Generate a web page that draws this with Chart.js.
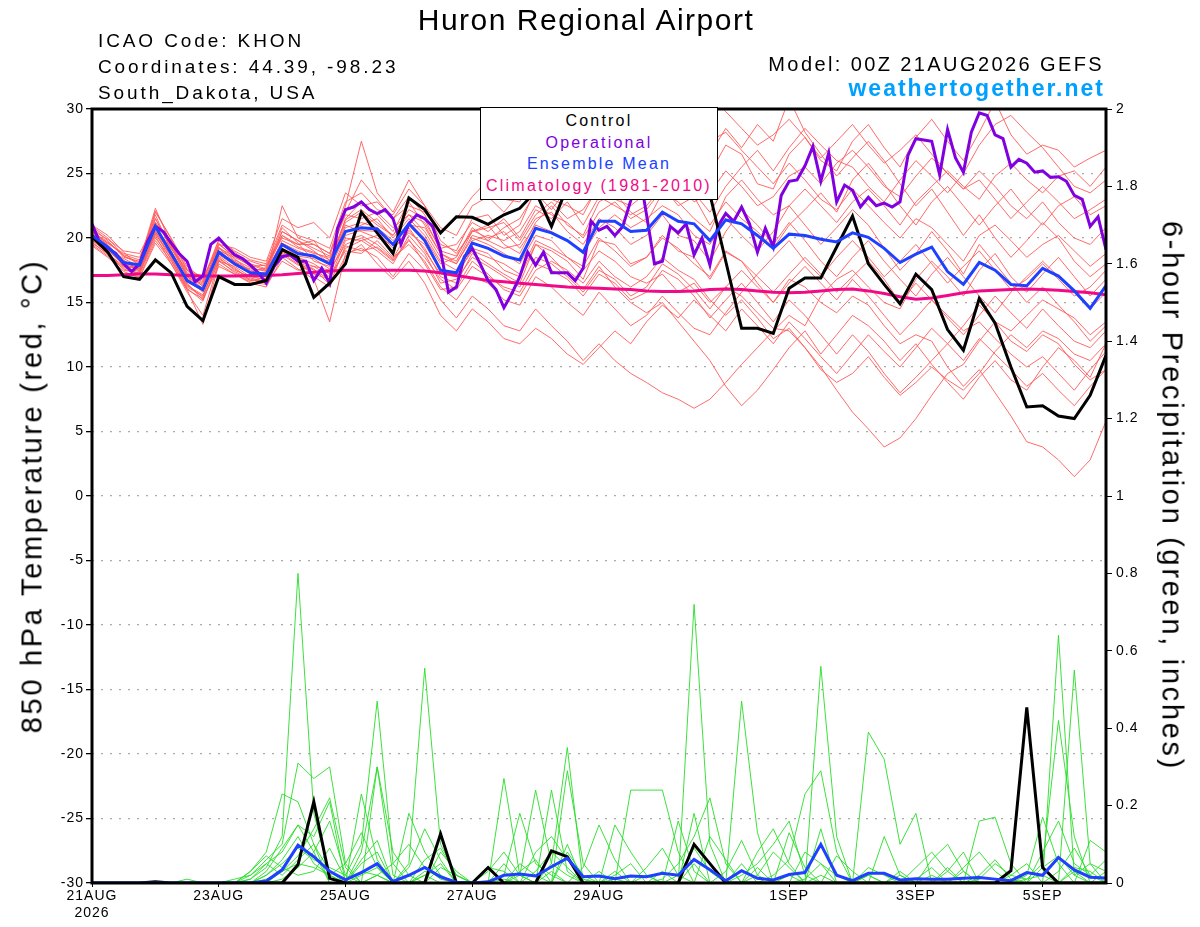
<!DOCTYPE html>
<html>
<head>
<meta charset="utf-8">
<script src="https://cdn.jsdelivr.net/npm/chart.js@4.4.1/dist/chart.umd.min.js"></script>
<style>
  body { margin: 0; background: #fff; }
  #wrap { position: relative; width: 1200px; height: 927px; font-family: 'Liberation Sans', Arial, sans-serif; }
  #c { position: absolute; left: 0; top: 0; }
  .t { position: absolute; white-space: nowrap; line-height: 1; color: #000; }
  .info { font-size: 19px; letter-spacing: 2.9px; left: 98px; }
  .axt { font-size: 29px; letter-spacing: 2.7px; }
  #legend { position: absolute; left: 480px; top: 107px; width: 236px; height: 89px; border: 1px solid #000;
            background: #fff; text-align: center; font-size: 16px; letter-spacing: 2.2px; line-height: 21.7px;
            padding-top: 2px; box-sizing: content-box; }
</style>
</head>
<body>
<div id="wrap">
  <canvas id="c" width="1200" height="927"></canvas>
  <div class="t" style="left:0;width:1172px;text-align:center;top:5px;font-size:30px;letter-spacing:1.5px">Huron Regional Airport</div>
  <div class="t info" style="top:31px">ICAO Code: KHON</div>
  <div class="t info" style="top:57px">Coordinates: 44.39, -98.23</div>
  <div class="t info" style="top:83px">South_Dakota, USA</div>
  <div class="t" style="right:96px;top:54px;font-size:20px;letter-spacing:2.4px">Model: 00Z 21AUG2026 GEFS</div>
  <div class="t" style="right:95px;top:77px;font-size:23px;letter-spacing:2px;font-weight:bold;color:#00a0ff">weathertogether.net</div>
  <div class="t axt" style="left:32px;top:496px;transform:translate(-50%,-50%) rotate(-90deg)">850 hPa Temperature (red, °C)</div>
  <div class="t axt" style="left:1172px;top:496px;transform:translate(-50%,-50%) rotate(90deg)">6-hour Precipitation (green, inches)</div>
  <div id="legend">
    <div style="color:#000">Control</div>
    <div style="color:#8000e0">Operational</div>
    <div style="color:#2040ff">Ensemble Mean</div>
    <div style="color:#f00a88">Climatology (1981-2010)</div>
  </div>
</div>
<script>
// forecast hours, 6-hourly for the ensemble, 3-hourly for the operational run
const HOURS6 = Array.from({ length: 65 }, (_, i) => i * 6);
const HOURS3 = Array.from({ length: 129 }, (_, i) => i * 3);

const TICK_HOURS = [0, 48, 96, 144, 192, 264, 312, 360];
const TICK_LABELS = [["21AUG", "2026"], "23AUG", "25AUG", "27AUG", "29AUG", "1SEP", "3SEP", "5SEP"];

// 850 hPa temperature (C)
const controlTemp = [
  20.1, 18.9, 17.0, 16.8, 18.3, 17.3, 14.7, 13.6, 17.0, 16.4, 16.4, 16.7,
  19.1, 18.5, 15.4, 16.5, 18.0, 22.0, 20.4, 18.8, 23.1, 22.2, 20.4, 21.65,
  21.6, 21.06, 21.8, 22.3, 23.6, 20.9, 24.0, 25.2, 26.0, 25.5, 26.5, 27.0,
  26.2, 25.8, 24.8, 23.4, 18.2, 13.0, 13.0, 12.6, 16.1, 16.9, 16.9, 19.3,
  21.7, 18.0, 16.4, 14.9, 17.2, 16.0, 12.9, 11.3, 15.3, 13.4, 10.0, 6.9,
  7.0, 6.2, 6.0, 7.8, 10.9
];
const meanTemp = [
  20.2, 19.3, 18.1, 17.9, 20.9, 18.8, 16.7, 16.0, 18.9, 18.0, 17.3, 17.2,
  19.5, 18.8, 18.6, 18.0, 20.5, 20.8, 20.7, 19.5, 21.1, 19.8, 17.5, 17.3,
  19.6, 19.2, 18.6, 18.3, 20.75, 20.4, 19.8, 18.9, 21.3, 21.3, 20.5, 20.6,
  22.0, 21.3, 21.1, 19.8, 21.4, 21.1, 20.2, 19.2, 20.3, 20.2, 19.9, 19.7,
  20.4, 20.05, 19.2, 18.1, 18.75, 19.3, 17.4, 16.4, 18.1, 17.5, 16.4, 16.3,
  17.65, 17.05, 15.9, 14.55, 16.3
];
const climoTemp = [
  17.1, 17.1, 17.15, 17.2, 17.2, 17.15, 17.1, 17.05, 17.05, 17.05, 17.1, 17.1,
  17.15, 17.25, 17.35, 17.45, 17.5, 17.5, 17.5, 17.5, 17.5, 17.45, 17.3, 17.1,
  16.9, 16.7, 16.6, 16.5, 16.4, 16.3, 16.2, 16.15, 16.1, 16.05, 16.0, 15.9,
  15.85, 15.85, 15.9, 16.0, 16.05, 16.0, 15.9, 15.8, 15.75, 15.8, 15.9, 16.0,
  16.05, 15.9, 15.7, 15.45, 15.25, 15.35, 15.55, 15.75, 15.9, 15.95, 16.0, 16.05,
  16.0, 15.95, 15.85, 15.75, 15.6
];
const operTemp = [
  21.1, 19.6, 19.2, 18.8, 18.0, 17.4, 18.0, 19.7, 20.9, 20.5, 19.6, 18.8, 18.2, 16.6, 17.05, 19.5,
  20.0, 19.3, 18.7, 18.4, 17.9, 17.3, 16.5, 17.8, 18.55, 18.7, 18.2, 18.2, 16.7, 17.65, 16.5, 20.75,
  22.2, 22.4, 22.8, 22.2, 21.9, 22.2, 21.5, 19.5, 21.1, 21.8, 21.5, 20.9, 19.0, 15.8, 16.2, 18.55,
  19.2, 18.0, 16.7, 16.0, 14.6, 15.7, 17.0, 18.9, 17.9, 18.9, 17.3, 17.3, 17.3, 16.7, 17.65, 21.3,
  20.6, 20.9, 20.2, 20.9, 22.9, 25.5, 21.8, 18.0, 18.2, 20.9, 20.4, 21.1, 18.7, 20.0, 17.9, 20.9,
  21.9, 21.3, 22.4, 21.1, 18.9, 20.75, 19.3, 23.3, 24.4, 24.5, 25.6, 27.1, 24.4, 26.6, 22.8, 24.1,
  23.7, 22.4, 23.15, 22.5, 22.7, 22.4, 22.8, 26.4, 27.7, 27.6, 27.5, 24.9, 28.4, 26.2, 25.1, 28.2,
  29.7, 29.5, 28.0, 27.7, 25.5, 26.1, 25.8, 25.1, 25.2, 24.7, 24.75, 24.4, 23.3, 23.0, 20.9, 21.65,
  19.1
];
const TEMP_MEMBERS = [
  [20.8, 19.8, 18.5, 18.2, 22.3, 19.5, 17.2, 16.5, 19.8, 18.9, 18.0, 17.6,
   20.5, 19.8, 19.2, 18.6, 22.0, 24.5, 23.0, 21.5, 23.2, 21.8, 19.5, 19.0,
   21.5, 21.8, 20.2, 21.0, 23.8, 23.0, 22.5, 21.8, 24.2, 25.0, 23.5, 24.8,
   26.5, 25.2, 26.8, 25.0, 27.2, 26.5, 24.2, 23.8, 26.5, 27.8, 26.0, 25.2,
   27.5, 28.8, 27.0, 25.5, 27.8, 29.2, 27.5, 26.0, 28.2, 30.6, 28.0, 26.5,
   27.2, 26.8, 25.5, 26.2, 26.8],
  [19.8, 18.9, 17.5, 17.3, 20.2, 18.0, 15.8, 14.0, 18.2, 17.4, 16.8, 16.5,
   18.9, 18.2, 17.5, 16.8, 19.8, 20.2, 19.5, 18.4, 20.6, 19.2, 17.0, 16.5,
   18.8, 18.0, 17.2, 16.5, 19.5, 19.0, 18.2, 16.8, 19.8, 19.5, 18.0, 18.5,
   20.2, 19.0, 18.5, 16.8, 18.9, 18.2, 16.5, 15.0, 16.8, 16.2, 15.0, 14.2,
   15.5, 14.8, 13.2, 11.8, 12.5, 12.0, 10.0, 8.5, 9.8, 8.0, 6.2, 4.2,
   3.8, 2.8, 1.5, 2.8, 5.8],
  [20.5, 19.6, 18.8, 18.5, 21.5, 19.2, 17.5, 16.2, 19.5, 18.6, 17.8, 17.9,
   20.2, 19.5, 19.8, 18.2, 21.2, 22.0, 21.0, 20.2, 21.8, 20.5, 18.5, 18.0,
   20.0, 19.5, 18.8, 18.0, 20.2, 19.8, 18.5, 17.5, 19.0, 18.2, 17.0, 16.5,
   17.2, 15.8, 16.5, 15.0, 16.2, 15.5, 14.2, 13.0, 12.8, 11.5, 10.0, 8.2,
   6.5, 5.2, 3.8, 4.5, 6.0, 7.8, 9.5, 10.2, 12.0, 13.5, 12.8, 14.0,
   15.2, 14.5, 13.8, 12.5, 13.5],
  [19.5, 18.6, 17.2, 17.0, 19.8, 18.2, 16.0, 13.3, 18.0, 17.2, 16.5, 16.2,
   18.5, 17.6, 16.8, 13.5, 18.8, 19.2, 18.5, 17.0, 18.8, 17.5, 15.2, 13.8,
   15.5, 14.5, 13.2, 12.8, 14.5, 13.2, 12.0, 10.5, 11.8, 10.5, 9.5, 8.8,
   8.0, 7.5, 6.8, 7.5, 8.8, 10.2, 11.5, 12.8, 14.0, 13.2, 15.5, 16.8,
   17.5, 16.2, 15.0, 14.5, 16.8, 18.2, 17.0, 15.5, 17.5, 18.8, 17.0, 15.8,
   17.2, 18.5, 17.0, 15.5, 16.8],
  [20.0, 19.0, 18.0, 17.5, 20.5, 18.5, 16.2, 15.5, 18.5, 17.5, 17.0, 16.8,
   19.2, 18.5, 18.0, 17.2, 20.0, 19.8, 20.2, 19.0, 20.8, 19.0, 17.2, 17.0,
   19.2, 18.8, 17.5, 17.0, 19.5, 18.5, 17.2, 16.0, 17.8, 16.2, 15.0, 14.2,
   15.0, 13.5, 12.0, 10.5, 8.5, 7.0, 8.2, 9.8, 11.5, 12.8, 11.0, 12.5,
   14.0, 13.2, 12.0, 10.5, 11.8, 10.2, 8.8, 7.5, 9.2, 10.5, 9.0, 8.2,
   10.0, 11.5, 10.5, 9.2, 11.8],
  [21.0, 20.2, 18.9, 17.8, 22.0, 20.0, 17.8, 16.8, 19.5, 19.2, 18.5, 18.2,
   21.5, 20.8, 21.2, 20.0, 23.5, 22.5, 22.8, 21.5, 22.5, 22.0, 20.5, 21.5,
   23.2, 24.5, 23.0, 22.8, 25.2, 24.5, 26.0, 24.8, 26.5, 27.5, 25.8, 27.0,
   28.5, 27.2, 30.5, 27.5, 28.2, 26.8, 25.5, 24.2, 25.8, 24.5, 23.0, 22.2,
   23.8, 22.5, 21.2, 20.0, 21.5, 20.8, 19.5, 18.2, 20.2, 21.0, 19.8, 18.5,
   19.5, 20.2, 19.0, 17.8, 18.8],
  [20.3, 19.5, 18.2, 17.6, 21.8, 19.0, 16.8, 15.8, 19.2, 18.2, 17.5, 17.0,
   22.5, 20.0, 19.5, 18.8, 22.5, 27.5, 23.5, 22.0, 24.5, 22.5, 19.8, 18.8,
   20.5, 21.0, 19.5, 18.8, 21.2, 22.5, 21.0, 20.2, 22.8, 23.5, 22.0, 21.2,
   23.5, 22.8, 21.5, 20.5, 23.2, 24.5, 23.0, 21.8, 22.5, 21.0, 19.5, 20.8,
   22.2, 21.0, 19.2, 17.5, 18.8, 20.5, 19.0, 17.2, 19.5, 18.0, 16.5, 15.0,
   16.2, 14.8, 13.5, 12.0, 13.2],
  [19.9, 19.2, 18.0, 18.0, 20.8, 19.2, 17.0, 16.3, 18.8, 18.2, 17.2, 17.3,
   19.8, 19.2, 18.8, 18.5, 20.5, 21.0, 21.5, 20.0, 21.5, 20.2, 18.2, 17.5,
   19.8, 20.2, 19.8, 20.5, 22.5, 21.8, 21.2, 20.0, 22.0, 22.8, 21.5, 22.2,
   23.8, 24.2, 23.5, 22.0, 24.0, 25.5, 26.8, 25.2, 27.0, 28.5, 27.2, 26.0,
   25.5, 24.0, 22.8, 24.5, 26.0, 24.8, 23.5, 25.0, 27.2, 28.8, 29.5, 28.2,
   27.0, 25.5, 24.0, 23.5, 24.5],
  [19.6, 18.8, 17.8, 17.2, 20.5, 18.8, 16.5, 15.2, 18.2, 17.8, 17.0, 16.8,
   19.0, 18.2, 17.8, 17.5, 19.5, 20.0, 19.2, 18.2, 19.8, 18.5, 16.8, 16.0,
   17.8, 17.0, 16.2, 15.8, 18.0, 17.5, 16.8, 15.5, 17.2, 16.5, 15.2, 15.8,
   17.5, 16.8, 15.5, 13.8, 15.2, 16.5, 15.0, 13.5, 15.2, 14.0, 12.5, 11.0,
   12.5, 11.2, 9.5, 8.0, 9.2, 10.5, 11.8, 13.2, 14.8, 13.5, 12.0, 11.2,
   12.5, 11.8, 10.2, 9.0, 9.8],
  [20.6, 19.9, 19.0, 18.8, 21.2, 19.8, 17.5, 17.0, 19.2, 18.6, 18.2, 17.8,
   20.0, 19.5, 19.5, 18.8, 21.8, 21.5, 22.0, 20.8, 21.8, 21.2, 19.2, 19.5,
   21.2, 20.5, 21.5, 20.0, 22.2, 21.5, 22.8, 21.0, 23.2, 22.5, 21.8, 22.5,
   24.0, 22.5, 23.2, 21.0, 22.8, 21.5, 20.5, 19.2, 21.0, 22.2, 23.5, 22.0,
   24.5, 25.8, 24.2, 22.5, 21.0, 22.8, 24.0, 22.5, 21.0, 22.5, 23.8, 22.2,
   21.0, 22.5, 23.2, 21.8, 22.5],
  [20.1, 19.2, 18.4, 17.8, 20.8, 18.6, 16.9, 16.0, 18.9, 18.0, 17.6, 17.5,
   20.5, 19.8, 19.0, 18.0, 21.0, 20.5, 20.0, 19.5, 21.2, 20.0, 18.0, 18.5,
   20.8, 19.8, 19.2, 19.5, 21.5, 22.0, 20.5, 19.5, 21.5, 20.8, 19.5, 20.2,
   21.8, 20.2, 19.8, 18.2, 20.5, 22.2, 21.0, 19.5, 21.2, 19.8, 18.2, 17.0,
   18.5, 19.8, 18.2, 16.8, 15.5, 17.2, 18.5, 17.0, 15.5, 14.2, 15.8, 17.0,
   18.2, 17.0, 15.8, 14.5, 15.8],
  [19.7, 18.7, 17.6, 17.2, 20.0, 18.4, 16.3, 15.6, 18.4, 17.6, 16.9, 16.6,
   18.8, 18.0, 17.2, 16.8, 19.2, 19.8, 19.0, 18.0, 20.2, 18.8, 16.5, 16.8,
   18.5, 17.8, 17.0, 16.2, 18.5, 18.0, 17.0, 15.8, 17.5, 16.8, 15.5, 16.2,
   18.0, 17.2, 16.0, 14.5, 16.2, 17.5, 16.2, 15.0, 16.5, 17.8, 16.5, 15.2,
   16.8, 15.5, 14.0, 12.5, 13.8, 15.2, 14.0, 12.8, 13.5, 12.2, 11.0, 10.0,
   10.8, 9.5, 8.2, 9.8, 11.2],
  [20.4, 19.6, 18.7, 18.3, 21.0, 19.6, 17.3, 16.6, 19.0, 18.5, 17.9, 17.5,
   19.6, 19.0, 18.5, 18.2, 20.8, 21.2, 20.8, 19.8, 21.0, 20.8, 18.8, 18.2,
   20.5, 20.8, 21.2, 19.8, 21.8, 22.8, 21.5, 22.2, 24.0, 23.0, 22.5, 23.5,
   25.0, 24.2, 22.8, 23.5, 25.2, 24.0, 22.5, 23.2, 24.8, 25.5, 24.2, 25.8,
   26.8, 25.5, 24.0, 23.2, 24.8, 26.2, 25.0, 23.8, 25.2, 24.0, 22.5, 21.5,
   22.8, 21.2, 20.0, 19.5, 20.8],
  [20.2, 19.1, 17.9, 17.7, 20.6, 18.9, 16.6, 15.9, 18.7, 17.9, 17.3, 17.1,
   19.4, 18.6, 18.4, 17.6, 20.2, 20.6, 20.5, 19.2, 20.4, 19.5, 17.5, 17.2,
   19.0, 18.5, 18.0, 17.2, 19.8, 19.2, 18.5, 17.8, 20.0, 19.0, 17.8, 18.5,
   20.0, 19.2, 18.0, 17.0, 19.0, 18.2, 17.0, 15.8, 17.2, 18.5, 17.2, 15.8,
   17.0, 18.2, 16.8, 15.0, 16.5, 15.2, 13.8, 12.5, 14.0, 15.5, 14.2, 13.0,
   14.5, 13.2, 12.0, 11.5, 12.8],
  [20.7, 19.4, 18.3, 17.4, 21.5, 19.3, 17.0, 16.1, 19.6, 18.4, 17.4, 17.7,
   20.8, 19.6, 18.2, 17.8, 21.5, 22.8, 21.8, 20.5, 22.8, 21.0, 18.8, 18.0,
   20.2, 19.8, 20.8, 21.5, 23.5, 22.2, 23.8, 23.0, 25.2, 24.0, 26.0, 25.2,
   27.0, 26.2, 25.0, 26.5, 28.5, 27.0, 28.8, 27.5, 30.8, 28.2, 26.5, 24.8,
   26.2, 27.5, 26.0, 24.2, 22.5, 23.8, 22.0, 20.2, 21.8, 20.0, 18.5, 19.8,
   21.2, 20.0, 18.2, 17.0, 18.0],
  [19.4, 18.5, 17.4, 16.9, 19.6, 18.0, 16.0, 15.3, 17.8, 17.2, 16.6, 16.4,
   18.2, 17.5, 17.8, 17.0, 19.0, 18.8, 19.8, 18.5, 19.5, 18.2, 16.2, 15.2,
   17.0, 16.5, 15.2, 14.8, 17.0, 16.2, 15.0, 14.0, 15.8, 14.5, 13.2, 14.0,
   15.5, 14.2, 13.0, 12.5, 14.2, 15.8, 17.2, 18.5, 19.8, 18.2, 17.0, 18.5,
   19.8, 18.5, 17.0, 18.2, 19.5, 18.0, 16.5, 17.8, 19.0, 17.5, 16.0, 16.8,
   18.0, 16.8, 15.5, 16.2, 17.5],
  [20.0, 19.3, 17.8, 17.6, 20.3, 18.6, 16.4, 15.4, 18.6, 17.7, 16.7, 16.9,
   19.0, 18.3, 17.0, 16.2, 18.6, 19.5, 18.0, 16.8, 18.2, 16.5, 14.0, 12.8,
   14.5, 13.5, 12.2, 11.8, 13.0, 12.2, 11.0, 10.2, 11.5, 12.8, 11.8, 13.5,
   14.8, 13.8, 15.2, 14.0, 12.8, 14.5, 13.2, 11.8, 13.5, 12.2, 10.8, 9.5,
   11.0, 12.5, 11.2, 10.0, 11.5, 13.0, 11.8, 10.5, 12.2, 11.0, 9.8, 8.5,
   9.5, 8.2, 7.0, 8.5, 9.8],
  [20.9, 20.0, 18.6, 18.1, 22.1, 19.9, 17.6, 16.7, 19.9, 19.0, 18.3, 18.0,
   21.0, 20.2, 19.8, 19.2, 22.8, 23.5, 22.2, 21.8, 23.8, 22.5, 20.8, 20.2,
   22.5, 23.2, 22.0, 23.5, 25.0, 24.2, 25.5, 26.2, 27.8, 26.5, 28.2, 27.5,
   29.2, 28.0, 29.5, 31.0, 29.8, 28.5, 27.2, 28.0, 29.2, 27.8, 26.2, 27.5,
   28.8, 27.2, 25.8, 26.8, 28.0, 26.5, 25.0, 23.8, 24.5, 23.0, 21.5, 22.8,
   24.0, 22.8, 21.5, 22.2, 23.0],
  [19.9, 18.8, 17.7, 17.4, 20.4, 18.3, 16.1, 15.1, 18.3, 17.3, 16.7, 16.7,
   18.7, 17.9, 17.6, 16.4, 19.4, 19.0, 19.3, 18.3, 19.9, 18.0, 16.0, 16.2,
   18.2, 17.2, 16.0, 15.5, 17.5, 18.2, 17.5, 16.5, 18.2, 17.0, 16.2, 17.0,
   18.5, 17.5, 16.8, 15.2, 14.0, 15.2, 13.8, 12.2, 13.0, 11.5, 9.8, 8.8,
   9.5, 10.8, 9.2, 7.8, 8.8, 10.0, 9.0, 8.2, 9.5, 11.2, 12.5, 11.5,
   12.8, 12.2, 11.0, 10.5, 11.8],
  [20.5, 19.7, 18.6, 18.0, 21.2, 19.4, 17.1, 16.4, 19.3, 18.3, 17.7, 17.4,
   20.2, 19.3, 18.9, 18.3, 21.4, 22.2, 21.2, 20.2, 22.2, 21.5, 19.0, 18.6,
   20.6, 20.0, 20.5, 19.2, 21.0, 20.5, 19.8, 18.8, 20.8, 21.8, 20.8, 21.5,
   22.5, 21.8, 20.2, 19.5, 21.5, 20.2, 19.0, 20.5, 22.5, 23.8, 22.5, 21.2,
   22.8, 23.8, 22.5, 21.0, 22.8, 24.0, 25.2, 24.0, 23.0, 24.8, 25.8, 24.5,
   23.5, 24.8, 25.2, 24.0, 25.5]
];

// 6-hour precipitation (inches)
const controlPrecip = [
  0, 0, 0, 0, 0.003, 0, 0, 0, 0, 0,
  0, 0, 0, 0.047, 0.21, 0.012, 0, 0, 0, 0,
  0, 0, 0.127, 0, 0, 0.04, 0, 0, 0, 0.083,
  0.068, 0, 0, 0, 0, 0, 0, 0, 0.10, 0.05,
  0, 0, 0, 0, 0, 0, 0, 0, 0, 0,
  0, 0, 0, 0, 0, 0, 0, 0, 0.032, 0.454,
  0.04, 0, 0, 0, 0
];
const meanPrecip = [
  0, 0, 0, 0, 0, 0, 0, 0, 0, 0,
  0, 0.005, 0.034, 0.098, 0.068, 0.03, 0.008, 0.027, 0.05, 0.004,
  0.02, 0.04, 0.016, 0.002, 0, 0.003, 0.02, 0.023, 0.018, 0.042,
  0.064, 0.016, 0.018, 0.011, 0.018, 0.016, 0.025, 0.02, 0.061, 0.034,
  0.006, 0.032, 0.012, 0.008, 0.022, 0.027, 0.1, 0.02, 0.006, 0.025,
  0.025, 0.008, 0.011, 0.01, 0.01, 0.012, 0.014, 0.01, 0.006, 0.027,
  0.02, 0.066, 0.034, 0.015, 0.013
];
const PRECIP_MEMBERS = [
  [0, 0, 0, 0, 0, 0, 0, 0, 0, 0,
   0.01, 0.04, 0.12, 0.80, 0.18, 0.02, 0, 0.05, 0.08, 0,
   0, 0.02, 0.05, 0, 0, 0.03, 0.08, 0.02, 0, 0.05,
   0.02, 0, 0, 0.01, 0, 0.04, 0.09, 0.02, 0, 0,
   0.03, 0.11, 0.02, 0, 0, 0.01, 0.05, 0, 0, 0.02,
   0, 0, 0.01, 0.04, 0, 0, 0.02, 0.06, 0.01, 0,
   0, 0.03, 0.09, 0.02, 0],
  [0, 0, 0, 0, 0, 0, 0, 0, 0, 0,
   0.02, 0.06, 0.10, 0.31, 0.27, 0.30, 0.05, 0, 0.02, 0,
   0.04, 0.14, 0.06, 0, 0, 0, 0.02, 0.18, 0.05, 0.02,
   0, 0, 0.03, 0, 0, 0, 0.01, 0.05, 0.12, 0.22,
   0.05, 0, 0, 0.02, 0.06, 0.23, 0.29, 0.08, 0, 0,
   0, 0.02, 0, 0, 0.03, 0.08, 0, 0, 0, 0.01,
   0.05, 0.42, 0.12, 0, 0.03],
  [0, 0, 0, 0, 0, 0, 0, 0, 0, 0,
   0.03, 0.08, 0.23, 0.21, 0.10, 0, 0, 0.08, 0.30, 0.02,
   0, 0, 0.08, 0.03, 0, 0, 0, 0.05, 0.02, 0,
   0.10, 0, 0, 0.15, 0.08, 0.02, 0, 0, 0, 0,
   0, 0, 0.04, 0, 0.02, 0, 0.56, 0.12, 0, 0,
   0, 0, 0, 0.02, 0, 0, 0, 0, 0.02, 0.05,
   0, 0, 0.55, 0.05, 0],
  [0, 0, 0, 0, 0, 0, 0, 0, 0, 0,
   0, 0.02, 0.05, 0.09, 0.06, 0.04, 0.02, 0.10, 0.47, 0.05,
   0, 0.03, 0.02, 0, 0, 0, 0, 0.02, 0.24, 0.05,
   0.35, 0, 0, 0, 0, 0, 0, 0, 0.72, 0.10,
   0, 0.05, 0, 0, 0, 0, 0, 0, 0, 0.04,
   0.02, 0, 0, 0, 0, 0.03, 0, 0, 0, 0,
   0, 0.64, 0.02, 0, 0],
  [0, 0, 0, 0, 0, 0, 0.01, 0, 0, 0,
   0.01, 0.05, 0.08, 0.15, 0.08, 0, 0, 0.23, 0.06, 0,
   0.05, 0.555, 0.10, 0.02, 0, 0, 0, 0, 0, 0,
   0.29, 0.05, 0, 0, 0, 0, 0, 0, 0, 0,
   0, 0.47, 0.13, 0, 0, 0, 0, 0, 0, 0,
   0, 0, 0, 0, 0, 0, 0.16, 0.17, 0.05, 0,
   0, 0, 0, 0, 0],
  [0, 0, 0, 0, 0, 0, 0, 0, 0, 0,
   0, 0.02, 0.06, 0.12, 0.05, 0.02, 0, 0.06, 0.11, 0,
   0.18, 0.08, 0.02, 0, 0, 0, 0.27, 0.02, 0, 0.24,
   0.03, 0, 0, 0, 0.24, 0.24, 0.24, 0.08, 0, 0,
   0, 0, 0, 0, 0.13, 0.04, 0, 0, 0, 0.39,
   0.32, 0.10, 0.18, 0, 0, 0, 0, 0, 0, 0,
   0, 0, 0, 0.11, 0.08],
  [0, 0, 0, 0, 0, 0, 0, 0, 0, 0,
   0, 0, 0.03, 0.07, 0.14, 0.22, 0.04, 0, 0.30, 0.08,
   0.02, 0, 0, 0, 0, 0.04, 0.03, 0, 0, 0,
   0, 0, 0, 0.03, 0, 0, 0, 0.16, 0.03, 0,
   0, 0, 0.02, 0.08, 0.04, 0, 0, 0, 0, 0,
   0.12, 0.02, 0, 0, 0.04, 0, 0, 0, 0, 0.02,
   0.17, 0.05, 0, 0, 0],
  [0, 0, 0, 0, 0, 0, 0, 0, 0, 0,
   0.03, 0.07, 0.04, 0.02, 0.03, 0.09, 0.01, 0.03, 0.02, 0.05,
   0.10, 0.04, 0.01, 0, 0, 0, 0.05, 0, 0.08, 0.12,
   0.06, 0.01, 0, 0.02, 0.05, 0, 0, 0.02, 0.09, 0.03,
   0, 0.02, 0.05, 0.10, 0.16, 0.02, 0, 0, 0, 0.02,
   0, 0, 0.04, 0.08, 0.03, 0, 0.01, 0.05, 0.02, 0.01,
   0.02, 0, 0.04, 0.03, 0],
  [0, 0, 0, 0, 0, 0, 0, 0, 0, 0.01,
   0.02, 0.05, 0.02, 0.06, 0.10, 0.03, 0, 0.02, 0.04, 0,
   0, 0.02, 0, 0, 0, 0, 0, 0.03, 0.06, 0,
   0, 0.04, 0.15, 0.06, 0, 0, 0.03, 0, 0, 0.12,
   0.06, 0, 0, 0, 0, 0.08, 0.05, 0.02, 0, 0,
   0, 0.03, 0, 0.06, 0.10, 0.03, 0, 0, 0, 0,
   0.04, 0.07, 0.02, 0.05, 0.03],
  [0, 0, 0, 0, 0, 0, 0, 0, 0, 0,
   0, 0.01, 0.03, 0.05, 0.04, 0.02, 0.05, 0.13, 0.04, 0,
   0, 0.06, 0.09, 0.02, 0, 0, 0.01, 0, 0.03, 0.08,
   0.04, 0, 0, 0, 0, 0.02, 0, 0, 0.05, 0,
   0, 0, 0.08, 0.14, 0.05, 0, 0, 0.07, 0.03, 0,
   0, 0, 0, 0, 0, 0.04, 0.08, 0.03, 0, 0,
   0.08, 0.16, 0.05, 0.02, 0.06],
  [0, 0, 0, 0, 0, 0, 0, 0, 0, 0,
   0, 0, 0.01, 0.04, 0.08, 0.16, 0.02, 0, 0, 0,
   0, 0, 0.04, 0.02, 0, 0, 0, 0, 0, 0,
   0.08, 0.02, 0, 0, 0, 0, 0, 0, 0, 0,
   0, 0, 0, 0, 0, 0, 0.14, 0, 0, 0,
   0, 0, 0, 0, 0, 0, 0, 0, 0, 0,
   0, 0, 0, 0, 0],
  [0, 0, 0, 0, 0, 0, 0, 0, 0, 0,
   0, 0.03, 0.09, 0.15, 0.12, 0.21, 0, 0, 0.02, 0,
   0, 0, 0, 0, 0, 0, 0, 0, 0, 0.03,
   0, 0, 0, 0, 0, 0, 0, 0, 0.18, 0,
   0, 0, 0, 0, 0, 0, 0.02, 0, 0, 0,
   0, 0, 0, 0, 0, 0, 0, 0, 0, 0,
   0, 0, 0.03, 0, 0]
];

const FONT = "'Liberation Sans', Arial, sans-serif";

function pts(hours, vals) {
  return vals.map((v, i) => ({ x: hours[i], y: v }));
}

function line(vals, hours, axis, color, width, order) {
  return {
    data: pts(hours, vals), yAxisID: axis, borderColor: color, borderWidth: width,
    pointRadius: 0, fill: false, tension: 0, order: order
  };
}

const datasets = [];
TEMP_MEMBERS.forEach(m => datasets.push(line(m, HOURS6, "yT", "rgb(255,90,90)", 0.9, 10)));
PRECIP_MEMBERS.forEach(m => datasets.push(line(m, HOURS6, "yP", "rgb(40,220,40)", 0.9, 9)));
datasets.push(line(climoTemp, HOURS6, "yT", "#f00a88", 3, 5));
datasets.push(line(operTemp, HOURS3, "yT", "#8000e0", 3, 4));
datasets.push(line(controlTemp, HOURS6, "yT", "#000", 3, 3));
datasets.push(line(controlPrecip, HOURS6, "yP", "#000", 3, 3));
datasets.push(line(meanTemp, HOURS6, "yT", "#2040ff", 3, 2));
datasets.push(line(meanPrecip, HOURS6, "yP", "#2040ff", 3, 2));

// thick frame round the plot and a little letter spacing like the original
const frame = {
  id: "frame",
  beforeDraw(c) { c.ctx.letterSpacing = "1px"; },
  afterDraw(c) {
    const a = c.chartArea, ctx = c.ctx;
    ctx.save();
    ctx.strokeStyle = "#000";
    ctx.lineWidth = 3;
    ctx.strokeRect(a.left, a.top, a.right - a.left, a.bottom - a.top);
    ctx.restore();
  }
};

const tickFont = { family: FONT, size: 14 };

new Chart(document.getElementById("c").getContext("2d"), {
  type: "line",
  data: { datasets },
  options: {
    responsive: false,
    animation: false,
    devicePixelRatio: 1,
    layout: { padding: { top: 109, left: 0, right: 0, bottom: 0 } },
    plugins: { legend: { display: false }, tooltip: { enabled: false } },
    scales: {
      x: {
        type: "linear", min: 0, max: 384,
        afterFit(s) { s.height = 44; },
        afterBuildTicks(s) { s.ticks = TICK_HOURS.map(v => ({ value: v })); },
        ticks: {
          autoSkip: false, maxRotation: 0, color: "#000", font: tickFont, padding: 1,
          callback: v => TICK_LABELS[TICK_HOURS.indexOf(v)]
        },
        grid: { drawOnChartArea: false, drawTicks: true, tickLength: 4, tickColor: "#000", tickWidth: 1 },
        border: { display: false }
      },
      yT: {
        position: "left", min: -30, max: 30,
        afterFit(s) { s.width = 92; },
        ticks: { stepSize: 5, color: "#000", font: tickFont, padding: 2 },
        grid: { color: "#aaa", lineWidth: 1.3, tickColor: "#000", tickLength: 6, tickBorderDash: [0, 0] },
        border: { display: false, dash: [2, 7] }
      },
      yP: {
        position: "right", min: 0, max: 2,
        afterFit(s) { s.width = 94; },
        ticks: { stepSize: 0.2, color: "#000", font: tickFont, padding: 4, callback: v => String(+v.toFixed(1)) },
        grid: { drawOnChartArea: false, tickColor: "#000", tickLength: 6 },
        border: { display: false }
      }
    }
  },
  plugins: [frame]
});
</script>
</body>
</html>
